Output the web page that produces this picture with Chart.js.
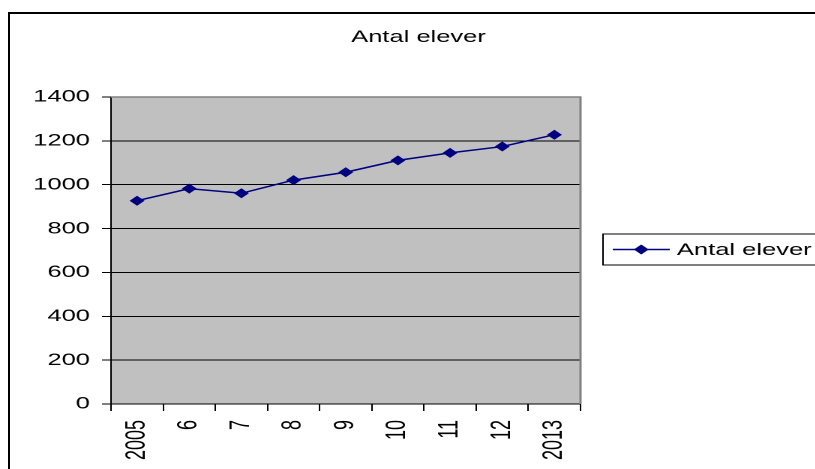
<!DOCTYPE html>
<html>
<head>
<meta charset="utf-8">
<script src="https://cdn.jsdelivr.net/npm/chart.js@4/dist/chart.umd.min.js"></script>
<style>
  html, body { margin: 0; padding: 0; background: #fff; overflow: hidden; }
  #wrap { position: relative; width: 815px; height: 469px; overflow: hidden; }
  #frameTop { position: absolute; left: 8px; top: 12px; width: 807px; height: 2px; background: #000; }
  #frameLeft { position: absolute; left: 8px; top: 12px; width: 2px; height: 457px; background: #000; }
  #chart { position: absolute; left: 0; top: 0; transform: scaleX(1.5); transform-origin: 0 0; }
</style>
</head>
<body>
<div id="wrap">
  <div id="frameTop"></div>
  <div id="frameLeft"></div>
  <canvas id="chart" width="543.33" height="469"></canvas>
</div>
<script>
const years = ["2005", "6", "7", "8", "9", "10", "11", "12", "2013"];
const students = [927, 982, 961, 1021, 1057, 1111, 1145, 1174, 1228];
const yTicks = [0, 200, 400, 600, 800, 1000, 1200, 1400];

const plotBox = {
  id: "plotBox",
  beforeDraw(chart) {
    const { ctx, chartArea: a } = chart;
    ctx.save();
    ctx.fillStyle = "#c0c0c0";
    ctx.fillRect(a.left, a.top, a.right - a.left, a.bottom - a.top);
    ctx.restore();
  },
  beforeDatasetsDraw(chart) {
    const { ctx, chartArea: a } = chart;
    ctx.save();
    ctx.strokeStyle = "#808080";
    ctx.lineWidth = 1.5;
    ctx.beginPath();
    ctx.moveTo(a.left, a.top);
    ctx.lineTo(a.right, a.top);
    ctx.lineTo(a.right, a.bottom);
    ctx.stroke();
    ctx.restore();
  },
};

// legend box runs past the right edge of the picture, as in the original
const boxLegend = {
  id: "boxLegend",
  afterDraw(chart) {
    const { ctx } = chart;
    const ds = chart.data.datasets[0];
    const x = 402, y = 234, w = 160, h = 31, cy = y + h / 2;
    ctx.save();
    ctx.strokeStyle = "#000";
    ctx.lineWidth = 1;
    ctx.beginPath();
    ctx.moveTo(x + w, y);
    ctx.lineTo(x, y);
    ctx.lineTo(x, y + h);
    ctx.lineTo(x + w, y + h);
    ctx.stroke();
    ctx.strokeStyle = ds.borderColor;
    ctx.lineWidth = 1.5;
    ctx.beginPath();
    ctx.moveTo(x + 6.5, cy);
    ctx.lineTo(x + 44.5, cy);
    ctx.stroke();
    ctx.fillStyle = ds.pointBackgroundColor;
    ctx.beginPath();
    ctx.moveTo(x + 25.5, cy - 5);
    ctx.lineTo(x + 30.5, cy);
    ctx.lineTo(x + 25.5, cy + 5);
    ctx.lineTo(x + 20.5, cy);
    ctx.closePath();
    ctx.fill();
    ctx.fillStyle = "#000";
    ctx.font = "17px 'Liberation Sans', Arial, sans-serif";
    ctx.textBaseline = "middle";
    ctx.fillText(ds.label, x + 49.3, cy + 1);
    ctx.restore();
  },
};

new Chart(document.getElementById("chart"), {
  type: "line",
  data: {
    labels: years,
    datasets: [
      {
        label: "Antal elever",
        data: students,
        borderColor: "#000080",
        backgroundColor: "#000080",
        pointBackgroundColor: "#000080",
        pointBorderColor: "#000080",
        borderWidth: 1.5,
        pointStyle: "rectRot",
        pointRadius: 5,
        pointBorderWidth: 0,
        tension: 0,
      },
    ],
  },
  options: {
    responsive: false,
    animation: false,
    devicePixelRatio: 2,
    layout: { padding: { left: 15, right: 0, top: 0, bottom: 0 } },
    plugins: {
      legend: { display: false },
      tooltip: { enabled: false },
      title: {
        display: true,
        text: "Antal elever",
        color: "#000",
        font: { family: "'Liberation Sans', Arial, sans-serif", size: 17, weight: "normal" },
        padding: { top: 27, bottom: 49.6 },
      },
    },
    scales: {
      x: {
        type: "category",
        offset: true,
        afterFit: (s) => { s.height = 65; },
        grid: { offset: true, drawOnChartArea: false, drawTicks: true, tickLength: 7, color: "#000" },
        border: { color: "#000", width: 1 },
        ticks: {
          color: "#000",
          minRotation: 90,
          maxRotation: 90,
          autoSkip: false,
          padding: 9,
          font: { family: "'Liberation Sans', Arial, sans-serif", size: 18 },
        },
      },
      y: {
        min: 0,
        max: 1400,
        afterFit: (s) => { s.width = 59; },
        afterBuildTicks: (s) => { s.ticks = yTicks.map((v) => ({ value: v })); },
        grid: { color: "#000", tickLength: 6 },
        border: { color: "#000", width: 1 },
        ticks: {
          color: "#000",
          padding: 8,
          callback: (v) => String(v),
          font: { family: "'Liberation Sans', Arial, sans-serif", size: 17 },
        },
      },
      // empty right-hand axis that reserves the room for the legend
      yRight: {
        position: "right",
        min: 0,
        max: 1400,
        afterFit: (s) => { s.width = 156; },
        grid: { display: false },
        border: { display: false },
        ticks: { display: false },
      },
    },
  },
  plugins: [plotBox, boxLegend],
});
</script>
</body>
</html>
